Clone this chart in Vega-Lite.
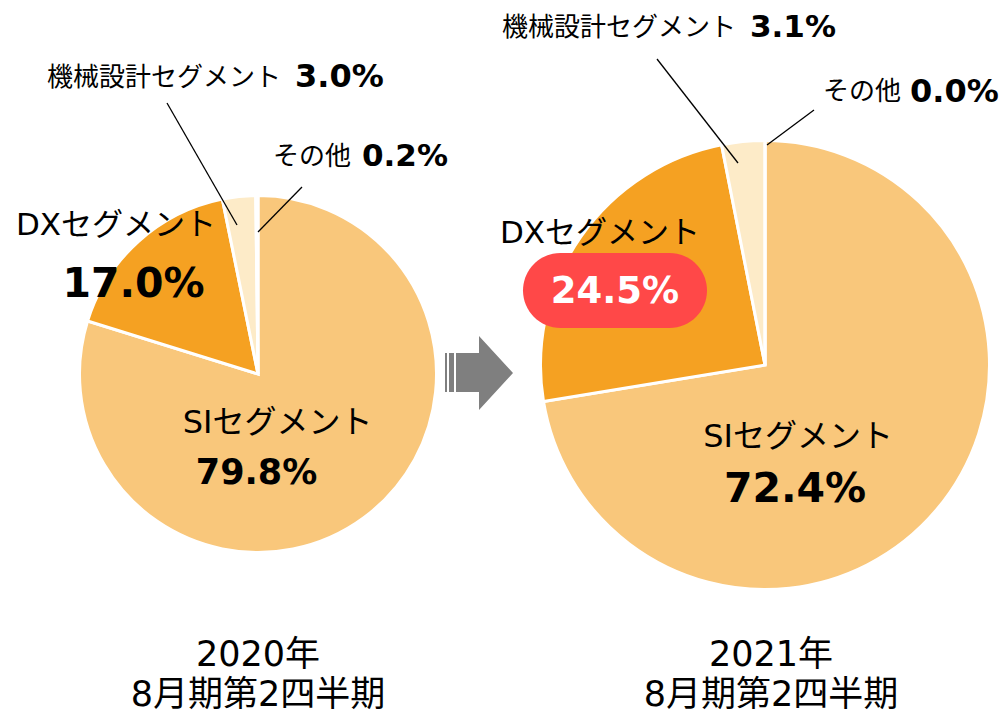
{
  "$schema": "https://vega.github.io/schema/vega-lite/v6.json",
  "width": 1006,
  "height": 713,
  "autosize": "none",
  "padding": 0,
  "background": "white",
  "config": {"view": {"stroke": null}},
  "datasets": {
    "shares": [
      {"period": "2020", "segment": "SIセグメント", "share": 0.798},
      {"period": "2020", "segment": "DXセグメント", "share": 0.170},
      {"period": "2020", "segment": "機械設計セグメント", "share": 0.030},
      {"period": "2020", "segment": "その他", "share": 0.002},
      {"period": "2021", "segment": "SIセグメント", "share": 0.724},
      {"period": "2021", "segment": "DXセグメント", "share": 0.245},
      {"period": "2021", "segment": "機械設計セグメント", "share": 0.031},
      {"period": "2021", "segment": "その他", "share": 0.000}
    ],
    "periods": [
      {"period": "2020", "label": "2020年\n8月期第2四半期"},
      {"period": "2021", "label": "2021年\n8月期第2四半期"}
    ]
  },
  "layer": [
    {
      "encoding": {
        "x": {"field": "period", "type": "nominal", "scale": {"type": "point", "domain": ["2020", "2021"], "range": [258, 765], "padding": 0}, "axis": null},
        "y": {"field": "period", "type": "nominal", "scale": {"type": "point", "domain": ["2020", "2021"], "range": [374, 365], "padding": 0}, "axis": null}
      },
      "layer": [
        {
          "data": {"name": "shares"},
          "transform": [{"filter": "datum.period == '2020'"}, {"stack": "share", "groupby": ["period"], "as": ["s0", "s1"]}],
          "mark": {"type": "arc", "radius": 178.5, "stroke": "white", "strokeWidth": 3},
          "encoding": {
            "theta": {"field": "s0", "type": "quantitative", "scale": {"domain": [0, 1]}},
            "theta2": {"field": "s1"},
            "color": {"field": "segment", "type": "nominal", "scale": {"domain": ["SIセグメント", "DXセグメント", "機械設計セグメント", "その他"], "range": ["#F9C77B", "#F5A122", "#FDEBC8", "#F4BFA0"]}, "legend": null}
          }
        },
        {
          "data": {"name": "shares"},
          "transform": [{"filter": "datum.period == '2021'"}, {"stack": "share", "groupby": ["period"], "as": ["s0", "s1"]}],
          "mark": {"type": "arc", "radius": 224.5, "stroke": "white", "strokeWidth": 3},
          "encoding": {
            "theta": {"field": "s0", "type": "quantitative", "scale": {"domain": [0, 1]}},
            "theta2": {"field": "s1"},
            "color": {"field": "segment", "type": "nominal", "legend": null}
          }
        },
        {
          "data": {"name": "shares"},
          "transform": [{"filter": "datum.period == '2021' && datum.segment == 'DXセグメント'"}],
          "mark": {"type": "point", "shape": "M -204.5 -112 L -95.5 -112 A 37.5 37.5 0 0 1 -95.5 -37 L -204.5 -37 A 37.5 37.5 0 0 1 -204.5 -112 Z", "size": 4, "filled": true, "fill": "#FF4848", "strokeWidth": 0, "opacity": 1}
        },
        {
          "data": {"name": "shares"},
          "transform": [{"filter": "datum.period == '2020' && datum.segment == '機械設計セグメント'"}],
          "mark": {"type": "point", "shape": "M -91 -271 L -21 -149", "size": 4, "filled": false, "stroke": "#000000", "strokeWidth": 1.3, "opacity": 1}
        },
        {
          "data": {"name": "shares"},
          "transform": [{"filter": "datum.period == '2020' && datum.segment == 'その他'"}],
          "mark": {"type": "point", "shape": "M 44 -187 L 0 -142", "size": 4, "filled": false, "stroke": "#000000", "strokeWidth": 1.3, "opacity": 1}
        },
        {
          "data": {"name": "shares"},
          "transform": [{"filter": "datum.period == '2021' && datum.segment == '機械設計セグメント'"}],
          "mark": {"type": "point", "shape": "M -108 -306 L -27 -202", "size": 4, "filled": false, "stroke": "#000000", "strokeWidth": 1.3, "opacity": 1}
        },
        {
          "data": {"name": "shares"},
          "transform": [{"filter": "datum.period == '2021' && datum.segment == 'その他'"}],
          "mark": {"type": "point", "shape": "M 49 -255 L 2 -220", "size": 4, "filled": false, "stroke": "#000000", "strokeWidth": 1.3, "opacity": 1}
        },
        {
          "data": {"name": "shares"},
          "transform": [{"filter": "datum.period == '2020' && datum.segment == '機械設計セグメント'"}],
          "mark": {"type": "text", "align": "left", "baseline": "middle", "dx": -211, "dy": -296, "font": "Noto Sans CJK JP", "fontSize": 26, "color": "#000000"},
          "encoding": {"text": {"field": "segment"}}
        },
        {
          "data": {"name": "shares"},
          "transform": [{"filter": "datum.period == '2020' && datum.segment == '機械設計セグメント'"}],
          "mark": {"type": "text", "align": "left", "baseline": "middle", "dx": 37, "dy": -297, "font": "DejaVu Sans", "fontWeight": "bold", "fontSize": 32, "color": "#000000"},
          "encoding": {"text": {"field": "share", "type": "quantitative", "format": ".1%"}}
        },
        {
          "data": {"name": "shares"},
          "transform": [{"filter": "datum.period == '2020' && datum.segment == 'その他'"}],
          "mark": {"type": "text", "align": "left", "baseline": "middle", "dx": 15, "dy": -217, "font": "Noto Sans CJK JP", "fontSize": 26, "color": "#000000"},
          "encoding": {"text": {"field": "segment"}}
        },
        {
          "data": {"name": "shares"},
          "transform": [{"filter": "datum.period == '2020' && datum.segment == 'その他'"}],
          "mark": {"type": "text", "align": "left", "baseline": "middle", "dx": 104, "dy": -217, "font": "DejaVu Sans", "fontWeight": "bold", "fontSize": 31, "color": "#000000"},
          "encoding": {"text": {"field": "share", "type": "quantitative", "format": ".1%"}}
        },
        {
          "data": {"name": "shares"},
          "transform": [{"filter": "datum.period == '2020' && datum.segment == 'DXセグメント'"}],
          "mark": {"type": "text", "align": "center", "baseline": "middle", "dx": -142, "dy": -148, "font": "DejaVu Sans, Noto Sans CJK JP", "fontSize": 31, "color": "#000000"},
          "encoding": {"text": {"field": "segment"}}
        },
        {
          "data": {"name": "shares"},
          "transform": [{"filter": "datum.period == '2020' && datum.segment == 'DXセグメント'"}],
          "mark": {"type": "text", "align": "center", "baseline": "middle", "dx": -124.5, "dy": -89, "font": "DejaVu Sans", "fontWeight": "bold", "fontSize": 41, "color": "#000000"},
          "encoding": {"text": {"field": "share", "type": "quantitative", "format": ".1%"}}
        },
        {
          "data": {"name": "shares"},
          "transform": [{"filter": "datum.period == '2020' && datum.segment == 'SIセグメント'"}],
          "mark": {"type": "text", "align": "center", "baseline": "middle", "dx": 19.5, "dy": 49, "font": "DejaVu Sans, Noto Sans CJK JP", "fontSize": 32, "color": "#000000"},
          "encoding": {"text": {"field": "segment"}}
        },
        {
          "data": {"name": "shares"},
          "transform": [{"filter": "datum.period == '2020' && datum.segment == 'SIセグメント'"}],
          "mark": {"type": "text", "align": "center", "baseline": "middle", "dx": -1.5, "dy": 99, "font": "DejaVu Sans", "fontWeight": "bold", "fontSize": 35, "color": "#000000"},
          "encoding": {"text": {"field": "share", "type": "quantitative", "format": ".1%"}}
        },
        {
          "data": {"name": "shares"},
          "transform": [{"filter": "datum.period == '2021' && datum.segment == '機械設計セグメント'"}],
          "mark": {"type": "text", "align": "left", "baseline": "middle", "dx": -263, "dy": -337, "font": "Noto Sans CJK JP", "fontSize": 26, "color": "#000000"},
          "encoding": {"text": {"field": "segment"}}
        },
        {
          "data": {"name": "shares"},
          "transform": [{"filter": "datum.period == '2021' && datum.segment == '機械設計セグメント'"}],
          "mark": {"type": "text", "align": "left", "baseline": "middle", "dx": -15, "dy": -337, "font": "DejaVu Sans", "fontWeight": "bold", "fontSize": 31, "color": "#000000"},
          "encoding": {"text": {"field": "share", "type": "quantitative", "format": ".1%"}}
        },
        {
          "data": {"name": "shares"},
          "transform": [{"filter": "datum.period == '2021' && datum.segment == 'その他'"}],
          "mark": {"type": "text", "align": "left", "baseline": "middle", "dx": 58, "dy": -273, "font": "Noto Sans CJK JP", "fontSize": 26, "color": "#000000"},
          "encoding": {"text": {"field": "segment"}}
        },
        {
          "data": {"name": "shares"},
          "transform": [{"filter": "datum.period == '2021' && datum.segment == 'その他'"}],
          "mark": {"type": "text", "align": "left", "baseline": "middle", "dx": 145, "dy": -273, "font": "DejaVu Sans", "fontWeight": "bold", "fontSize": 32, "color": "#000000"},
          "encoding": {"text": {"field": "share", "type": "quantitative", "format": ".1%"}}
        },
        {
          "data": {"name": "shares"},
          "transform": [{"filter": "datum.period == '2021' && datum.segment == 'DXセグメント'"}],
          "mark": {"type": "text", "align": "center", "baseline": "middle", "dx": -165, "dy": -131, "font": "DejaVu Sans, Noto Sans CJK JP", "fontSize": 31, "color": "#000000"},
          "encoding": {"text": {"field": "segment"}}
        },
        {
          "data": {"name": "shares"},
          "transform": [{"filter": "datum.period == '2021' && datum.segment == 'DXセグメント'"}],
          "mark": {"type": "text", "align": "center", "baseline": "middle", "dx": -150, "dy": -73, "font": "DejaVu Sans", "fontWeight": "bold", "fontSize": 37, "color": "#FFFFFF"},
          "encoding": {"text": {"field": "share", "type": "quantitative", "format": ".1%"}}
        },
        {
          "data": {"name": "shares"},
          "transform": [{"filter": "datum.period == '2021' && datum.segment == 'SIセグメント'"}],
          "mark": {"type": "text", "align": "center", "baseline": "middle", "dx": 33, "dy": 72, "font": "DejaVu Sans, Noto Sans CJK JP", "fontSize": 32, "color": "#000000"},
          "encoding": {"text": {"field": "segment"}}
        },
        {
          "data": {"name": "shares"},
          "transform": [{"filter": "datum.period == '2021' && datum.segment == 'SIセグメント'"}],
          "mark": {"type": "text", "align": "center", "baseline": "middle", "dx": 30, "dy": 125, "font": "DejaVu Sans", "fontWeight": "bold", "fontSize": 41, "color": "#000000"},
          "encoding": {"text": {"field": "share", "type": "quantitative", "format": ".1%"}}
        },
        {
          "data": {"name": "periods"},
          "transform": [{"filter": "datum.period == '2020'"}],
          "mark": {"type": "text", "align": "center", "baseline": "middle", "dx": 0, "dy": 281, "lineBreak": "\n", "lineHeight": 40, "font": "DejaVu Sans, Noto Sans CJK JP", "fontSize": 35, "color": "#000000"},
          "encoding": {"text": {"field": "label"}}
        },
        {
          "data": {"name": "periods"},
          "transform": [{"filter": "datum.period == '2021'"}],
          "mark": {"type": "text", "align": "center", "baseline": "middle", "dx": 6, "dy": 290, "lineBreak": "\n", "lineHeight": 40, "font": "DejaVu Sans, Noto Sans CJK JP", "fontSize": 35, "color": "#000000"},
          "encoding": {"text": {"field": "label"}}
        }
      ]
    },
    {
      "data": {"values": [{"item": "arrow"}]},
      "mark": {"type": "point", "shape": "M -58 -3.5 L -56 -3.5 L -56 35.5 L -58 35.5 Z M -54 -3.5 L -49 -3.5 L -49 35.5 L -54 35.5 Z M -47 -3.5 L -24 -3.5 L -24 -20.5 L 10 16.5 L -24 53.5 L -24 35.5 L -47 35.5 Z", "size": 4, "filled": true, "fill": "#7F7F7F", "strokeWidth": 0, "opacity": 1}
    }
  ]
}
